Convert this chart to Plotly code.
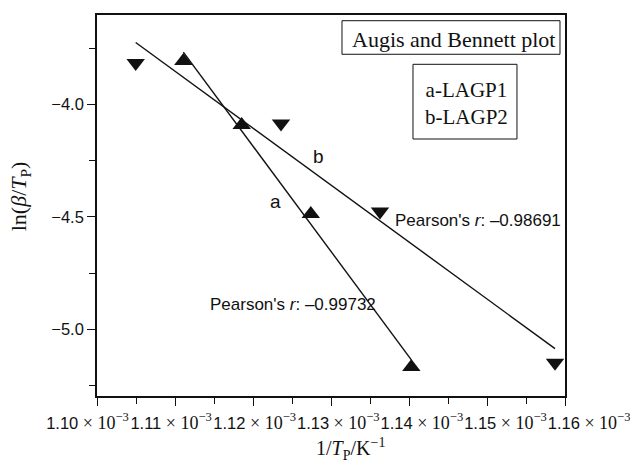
import numpy as np
import plotly.graph_objects as go

# Augis-Bennett data: 1/Tp (K^-1) against ln(beta/Tp)
x_lagp1 = [1.11107e-3, 1.11855e-3, 1.12741e-3, 1.14030e-3]
y_lagp1 = [-3.808, -4.092, -4.487, -5.168]
x_lagp2 = [1.10496e-3, 1.12359e-3, 1.13628e-3, 1.15872e-3]
y_lagp2 = [-3.816, -4.085, -4.476, -5.149]

pearson_lagp1 = "-0.99732"
pearson_lagp2 = "-0.98691"

x_tick_vals = [1.10e-3, 1.11e-3, 1.12e-3, 1.13e-3, 1.14e-3, 1.15e-3, 1.16e-3]
x_tick_mant = ["1.10", "1.11", "1.12", "1.13", "1.14", "1.15", "1.16"]
y_tick_vals = [-5.0, -4.5, -4.0]

SANS = "Liberation Sans"
SERIF = "Liberation Serif"
BLACK = "#111111"


def fit_line(x, y):
    slope, icpt = np.polyfit(np.array(x), np.array(y), 1)
    xs = np.array([min(x), max(x)])
    return xs, slope * xs + icpt


fig = go.Figure()

for xs_, ys_ in (fit_line(x_lagp1, y_lagp1), fit_line(x_lagp2, y_lagp2)):
    fig.add_trace(go.Scatter(x=xs_, y=ys_, mode="lines",
                             line=dict(color=BLACK, width=1.4),
                             showlegend=False, hoverinfo="skip"))

fig.add_trace(go.Scatter(x=x_lagp1, y=y_lagp1, mode="markers",
                         marker=dict(symbol="triangle-up", size=16, color=BLACK),
                         showlegend=False))
fig.add_trace(go.Scatter(x=x_lagp2, y=y_lagp2, mode="markers",
                         marker=dict(symbol="triangle-down", size=16, color=BLACK),
                         showlegend=False))

# tick labels "1.10 x 10^-3" sit on a label-only axis spread slightly wider than the ticks
lab_first_px, lab_step_px, fig_w = 87.5, 83.6, 630
lab_lo = x_tick_vals[0] + (0 - lab_first_px) / lab_step_px * 1e-5
lab_hi = x_tick_vals[0] + (fig_w - lab_first_px) / lab_step_px * 1e-5
x_tick_text = [
    f'{m}<span style="font-family:{SERIF};font-size:18px"> × 10<sup>−3</sup></span>'
    for m in x_tick_mant
]
# invisible carrier so the label axis gets its own subplot
fig.add_trace(go.Scatter(x=[lab_lo, lab_hi], y=[-4.5, -4.5], xaxis="x2", yaxis="y",
                         mode="markers", marker=dict(opacity=0, size=1),
                         showlegend=False, hoverinfo="skip"))

axis_common = dict(showgrid=False, zeroline=False, showline=True, linewidth=1.6,
                   linecolor=BLACK, mirror=True, ticks="outside", ticklen=8,
                   tickwidth=1.4, tickcolor=BLACK, automargin=False)

fig.update_layout(
    width=630, height=465,
    margin=dict(l=0, r=0, t=15, b=69),
    paper_bgcolor="white", plot_bgcolor="rgba(0,0,0,0)",
    font=dict(family=SANS, size=16.5, color=BLACK),
    xaxis=dict(domain=[97 / 630, 565 / 630], range=[1.10e-3, 1.16e-3],
               tickmode="array", tickvals=x_tick_vals, showticklabels=False,
               minor=dict(ticks="outside", ticklen=6, tickwidth=1.2,
                          tickcolor=BLACK, dtick=0.5e-5, tick0=1.10e-3),
               **axis_common),
    xaxis2=dict(domain=[0, 1], anchor="y", range=[lab_lo, lab_hi],
                tickmode="array", tickvals=x_tick_vals, ticktext=x_tick_text,
                showticklabels=True, side="bottom", tickangle=0,
                ticklabeloverflow="allow", automargin=False,
                showline=False, showgrid=False, zeroline=False, ticks="",
                ticklabelstandoff=15,
                tickfont=dict(family=SANS, size=16.5, color=BLACK)),
    yaxis=dict(range=[-5.2964, -3.6031], tickmode="array", tickvals=y_tick_vals,
               tickformat=".1f",
               tickfont=dict(family=SANS, size=16.5, color=BLACK),
               minor=dict(ticks="outside", ticklen=6, tickwidth=1.2,
                          tickcolor=BLACK, dtick=0.25, tick0=-4.0),
               **axis_common),
)

# boxed captions
fig.add_shape(type="rect", xref="x domain", yref="y domain",
              x0=0.5235, x1=0.9893, y0=0.8969, y1=0.985,
              line=dict(color=BLACK, width=1), fillcolor="white", layer="above")
fig.add_shape(type="rect", xref="x domain", yref="y domain",
              x0=0.6752, x1=0.8974, y0=0.6745, y1=0.8706,
              line=dict(color=BLACK, width=1), fillcolor="white", layer="above")

ann = [
    dict(text="Augis and Bennett plot", x=0.9829, y=0.937, xanchor="right",
         font=dict(family=SERIF, size=22)),
    dict(text="a-LAGP1<br>b-LAGP2", x=0.7885, y=0.7677, xanchor="center",
         font=dict(family=SERIF, size=21)),
    dict(text="ln(<i>β</i>/<i>T</i><sub>P</sub>)", x=-0.1650, y=0.5236,
         xanchor="center", textangle=-90, font=dict(family=SERIF, size=22)),
    dict(text="1/<i>T</i><sub>P</sub>/K<sup>−1</sup>", x=0.5406, y=-0.139,
         xanchor="center", font=dict(family=SERIF, size=20)),
]
for a in ann:
    fig.add_annotation(xref="x domain", yref="y domain", yanchor="middle",
                       showarrow=False, **a)

# series letters and correlation coefficients, placed in data space
fig.add_annotation(x=1.12292e-3, y=-4.434, text="a", showarrow=False,
                   font=dict(family=SANS, size=19))
fig.add_annotation(x=1.12842e-3, y=-4.234, text="b", showarrow=False,
                   font=dict(family=SANS, size=19))
fig.add_annotation(x=1.13800e-3, y=-4.516, xanchor="left",
                   text=f"Pearson's <i>r</i>: {pearson_lagp2.replace('-', '–')}",
                   showarrow=False, font=dict(family=SANS, size=17))
fig.add_annotation(x=1.11423e-3, y=-4.890, xanchor="left",
                   text=f"Pearson's <i>r</i>: {pearson_lagp1.replace('-', '–')}",
                   showarrow=False, font=dict(family=SANS, size=17))

fig.write_html("out.html")
